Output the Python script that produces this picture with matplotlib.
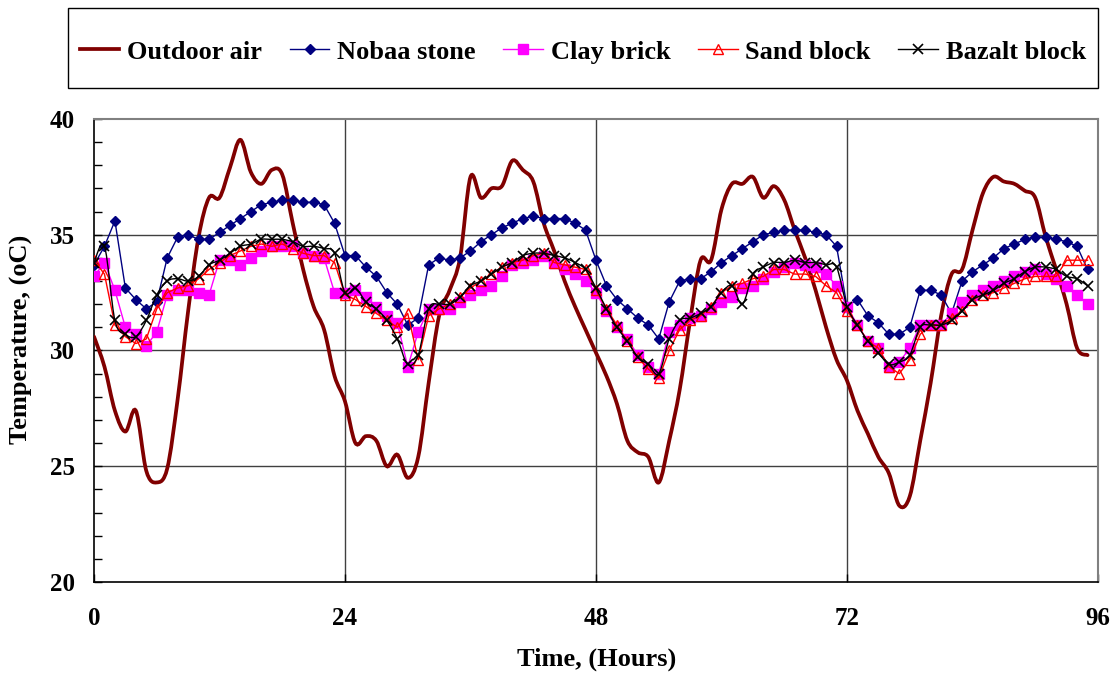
import matplotlib
matplotlib.use('Agg')
import matplotlib.pyplot as plt
from matplotlib.path import Path
from matplotlib.patches import PathPatch, Rectangle
from matplotlib.lines import Line2D
from matplotlib.ticker import MultipleLocator, FixedLocator

hours = list(range(96))

outdoor_air = [30.6, 29.3, 27.4, 26.5, 27.4, 24.8, 24.3, 24.9, 27.9, 31.7,
               34.9, 36.6, 36.6, 37.9, 39.1, 37.7, 37.2, 37.8, 37.6, 35.5,
               33.5, 31.9, 30.9, 28.9, 27.8, 26.0, 26.3, 26.1, 25.0, 25.5,
               24.5, 25.4, 28.6, 31.5, 32.6, 34.0, 37.5, 36.6, 37.0, 37.1,
               38.2, 37.8, 37.3, 35.5, 34.3, 33.0, 31.9, 30.9, 29.9, 28.9,
               27.7, 26.1, 25.6, 25.4, 24.3, 26.1, 28.3, 31.3, 33.9, 33.9,
               36.1, 37.2, 37.2, 37.5, 36.6, 37.1, 36.5, 35.2, 34.0, 32.6,
               31.0, 29.6, 28.7, 27.4, 26.4, 25.4, 24.7, 23.3, 23.7, 26.1,
               28.6, 31.5, 33.3, 33.5, 35.2, 36.8, 37.5, 37.3, 37.2, 36.9,
               36.6, 34.9, 33.5, 32.0, 30.1, 29.8]

nobaa_stone = [33.7, 34.5, 35.6, 32.7, 32.2, 31.8, 32.1, 34.0, 34.9, 35.0,
               34.8, 34.8, 35.1, 35.4, 35.7, 36.0, 36.3, 36.4, 36.5, 36.5,
               36.4, 36.4, 36.3, 35.5, 34.1, 34.1, 33.6, 33.2, 32.5, 32.0,
               31.1, 31.4, 33.7, 34.0, 33.9, 34.0, 34.3, 34.7, 35.0, 35.3,
               35.5, 35.7, 35.8, 35.7, 35.7, 35.7, 35.5, 35.2, 33.9, 32.8,
               32.2, 31.8, 31.4, 31.1, 30.5, 32.1, 33.0, 33.1, 33.1, 33.4,
               33.8, 34.1, 34.4, 34.7, 35.0, 35.1, 35.2, 35.2, 35.2, 35.1,
               35.0, 34.5, 31.9, 32.2, 31.5, 31.2, 30.7, 30.7, 31.0, 32.6,
               32.6, 32.4, 31.6, 33.0, 33.4, 33.7, 34.0, 34.4, 34.6, 34.8,
               34.9, 34.9, 34.8, 34.7, 34.5, 33.5]

clay_brick = [33.2, 33.8, 32.6, 31.0, 30.7, 30.2, 30.8, 32.4, 32.6, 32.6,
              32.5, 32.4, 33.9, 33.9, 33.7, 34.0, 34.3, 34.5, 34.5, 34.5,
              34.2, 34.1, 34.0, 32.5, 32.5, 32.6, 32.3, 31.9, 31.5, 31.2,
              29.3, 30.8, 31.8, 31.8, 31.8, 32.1, 32.4, 32.6, 32.8, 33.2,
              33.7, 33.8, 33.9, 34.1, 33.8, 33.5, 33.3, 33.0, 32.5, 31.7,
              31.0, 30.5, 29.8, 29.3, 29.0, 30.8, 31.1, 31.4, 31.5, 31.8,
              32.1, 32.3, 32.7, 32.8, 33.1, 33.4, 33.6, 33.8, 33.7, 33.6,
              33.3, 32.8, 31.9, 31.1, 30.4, 30.1, 29.3, 29.5, 30.1, 31.1,
              31.1, 31.1, 31.6, 32.1, 32.4, 32.6, 32.8, 33.0, 33.2, 33.4,
              33.5, 33.3, 33.1, 32.8, 32.4, 32.0]

sand_block = [33.9, 33.3, 31.1, 30.6, 30.3, 30.5, 31.8, 32.5, 32.7, 32.8,
              33.1, 33.5, 33.8, 34.1, 34.3, 34.5, 34.6, 34.5, 34.6, 34.4,
              34.2, 34.1, 34.1, 33.8, 32.4, 32.2, 31.9, 31.6, 31.3, 31.0,
              31.6, 29.6, 31.5, 31.8, 32.0, 32.3, 32.7, 33.0, 33.3, 33.6,
              33.8, 33.9, 34.1, 34.2, 33.8, 33.7, 33.6, 33.5, 32.6, 31.8,
              31.1, 30.4, 29.7, 29.2, 28.8, 30.0, 30.9, 31.3, 31.5, 31.9,
              32.5, 32.8, 32.9, 33.1, 33.2, 33.5, 33.5, 33.3, 33.3, 33.2,
              32.8, 32.5, 31.7, 31.1, 30.4, 30.1, 29.3, 29.0, 29.6, 30.7,
              31.1, 31.1, 31.4, 31.7, 32.2, 32.4, 32.5, 32.7, 32.9, 33.1,
              33.2, 33.2, 33.2, 33.9, 33.9, 33.9]

bazalt_block = [33.8, 34.5, 31.3, 30.7, 30.6, 31.3, 32.4, 33.0, 33.1, 33.0,
                33.2, 33.7, 33.9, 34.2, 34.5, 34.6, 34.8, 34.8, 34.8, 34.7,
                34.5, 34.5, 34.4, 34.2, 32.5, 32.7, 32.1, 31.8, 31.3, 30.5,
                29.4, 29.8, 31.8, 32.0, 32.0, 32.3, 32.8, 33.0, 33.3, 33.6,
                33.8, 34.1, 34.2, 34.2, 34.1, 34.0, 33.8, 33.5, 32.7, 31.8,
                31.0, 30.4, 29.7, 29.4, 29.0, 30.5, 31.3, 31.4, 31.6, 31.9,
                32.5, 32.8, 32.0, 33.3, 33.6, 33.8, 33.8, 33.9, 33.8, 33.8,
                33.7, 33.6, 31.9, 31.1, 30.4, 29.9, 29.4, 29.5, 29.8, 31.0,
                31.1, 31.1, 31.3, 31.7, 32.2, 32.4, 32.6, 32.9, 33.1, 33.4,
                33.6, 33.6, 33.5, 33.2, 33.1, 32.8]

series_labels = ['Outdoor air', 'Nobaa stone', 'Clay brick', 'Sand block', 'Bazalt block']
x_ticks = [0, 24, 48, 72, 96]
y_ticks = [20, 25, 30, 35, 40]

W, H = 1119, 673
FONT = ['Liberation Serif', 'DejaVu Serif']
plt.rcParams['font.family'] = FONT
plt.rcParams['font.weight'] = 'bold'


def smooth_path(xs, ys):
    n = len(xs)
    verts = [(xs[0], ys[0])]
    codes = [Path.MOVETO]
    for i in range(n - 1):
        xp, yp = (xs[i - 1], ys[i - 1]) if i > 0 else (xs[i], ys[i])
        xn, yn = (xs[i + 2], ys[i + 2]) if i + 2 < n else (xs[i + 1], ys[i + 1])
        c1 = (xs[i] + (xs[i + 1] - xp) / 6.0, ys[i] + (ys[i + 1] - yp) / 6.0)
        c2 = (xs[i + 1] - (xn - xs[i]) / 6.0, ys[i + 1] - (yn - ys[i]) / 6.0)
        verts += [c1, c2, (xs[i + 1], ys[i + 1])]
        codes += [Path.CURVE4] * 3
    return Path(verts, codes)


fig = plt.figure(figsize=(W / 100, H / 100), dpi=100)
ax = fig.add_axes([94 / W, 1 - 582 / H, (1098 - 94) / W, (582 - 119) / H])

# grid
for yv in y_ticks[1:-1]:
    ax.axhline(yv, color='#404040', lw=1.0, zorder=1)
for xv in x_ticks[1:-1]:
    ax.axvline(xv, color='#404040', lw=1.0, zorder=1)

# outdoor air, smoothed
ax.add_patch(PathPatch(smooth_path(hours, outdoor_air), fill=False,
                       edgecolor='#800000', lw=2.7, zorder=3, capstyle='round'))

# Nobaa stone
ax.plot(hours, nobaa_stone, color='#000080', lw=1.0, marker='D', ms=5.5,
        mfc='#000080', mec='#000080', zorder=4)
# Clay brick
ax.plot(hours, clay_brick, color='#FF00FF', lw=1.0, marker='s', ms=7,
        mfc='#FF00FF', mec='#FF00FF', zorder=4)
# Sand block
ax.plot(hours, sand_block, color='#FF0000', lw=1.0, marker='^', ms=7,
        mfc='none', mec='#FF0000', mew=1.0, zorder=5)
# Bazalt block (smoothed line + markers)
ax.add_patch(PathPatch(smooth_path(hours, bazalt_block), fill=False,
                       edgecolor='black', lw=1.0, zorder=5))
ax.plot(hours, bazalt_block, ls='none', marker='x', ms=7, mec='black',
        mew=1.2, zorder=6)

ax.set_xlim(0, 96)
ax.set_ylim(20, 40)
ax.xaxis.set_major_locator(FixedLocator(x_ticks))
ax.yaxis.set_major_locator(FixedLocator(y_ticks))
ax.yaxis.set_minor_locator(MultipleLocator(1))
ax.tick_params(axis='both', which='both', direction='in', length=6, width=1,
               labelsize=18)
ax.tick_params(axis='y', which='major', pad=14)
ax.tick_params(axis='x', which='major', pad=18)
for lab in ax.get_xticklabels() + ax.get_yticklabels():
    lab.set_fontweight('bold')

for s in ['left', 'bottom']:
    ax.spines[s].set_color('black')
    ax.spines[s].set_linewidth(1.2)
for s in ['top', 'right']:
    ax.spines[s].set_color('#808080')
    ax.spines[s].set_linewidth(1.5)

ax.set_xlabel('Time, (Hours)', fontsize=19, fontweight='bold')
ax.set_ylabel('Temperature, (oC)', fontsize=19, fontweight='bold')
ax.xaxis.set_label_coords((597 - 94) / 1004, (582 - 648) / 463)
ax.yaxis.set_label_coords((33 - 94) / 1004, (582 - 339) / 463)

handles = [
    Line2D([], [], color='#800000', lw=2.7),
    Line2D([], [], color='#000080', lw=1.0, marker='D', ms=5.5),
    Line2D([], [], color='#FF00FF', lw=1.0, marker='s', ms=7),
    Line2D([], [], color='#FF0000', lw=1.0, marker='^', ms=7, mfc='none'),
    Line2D([], [], color='black', lw=1.0, marker='x', ms=7, mew=1.2),
]
fig.add_artist(Rectangle((68 / W, 1 - 88 / H), (1098 - 68) / W, 80 / H,
                         transform=fig.transFigure, fill=False,
                         edgecolor='black', lw=1.0))
leg = fig.legend(handles, series_labels, loc='center',
                 bbox_to_anchor=(68 / W, 1 - 92 / H, (1098 - 68) / W, 80 / H),
                 mode='expand', ncol=5, frameon=False,
                 borderpad=0.45, borderaxespad=0.0,
                 handlelength=1.5, handletextpad=0.3, columnspacing=1.0,
                 prop={'family': FONT, 'weight': 'bold', 'size': 19})

fig.savefig('out.png', dpi=100)
